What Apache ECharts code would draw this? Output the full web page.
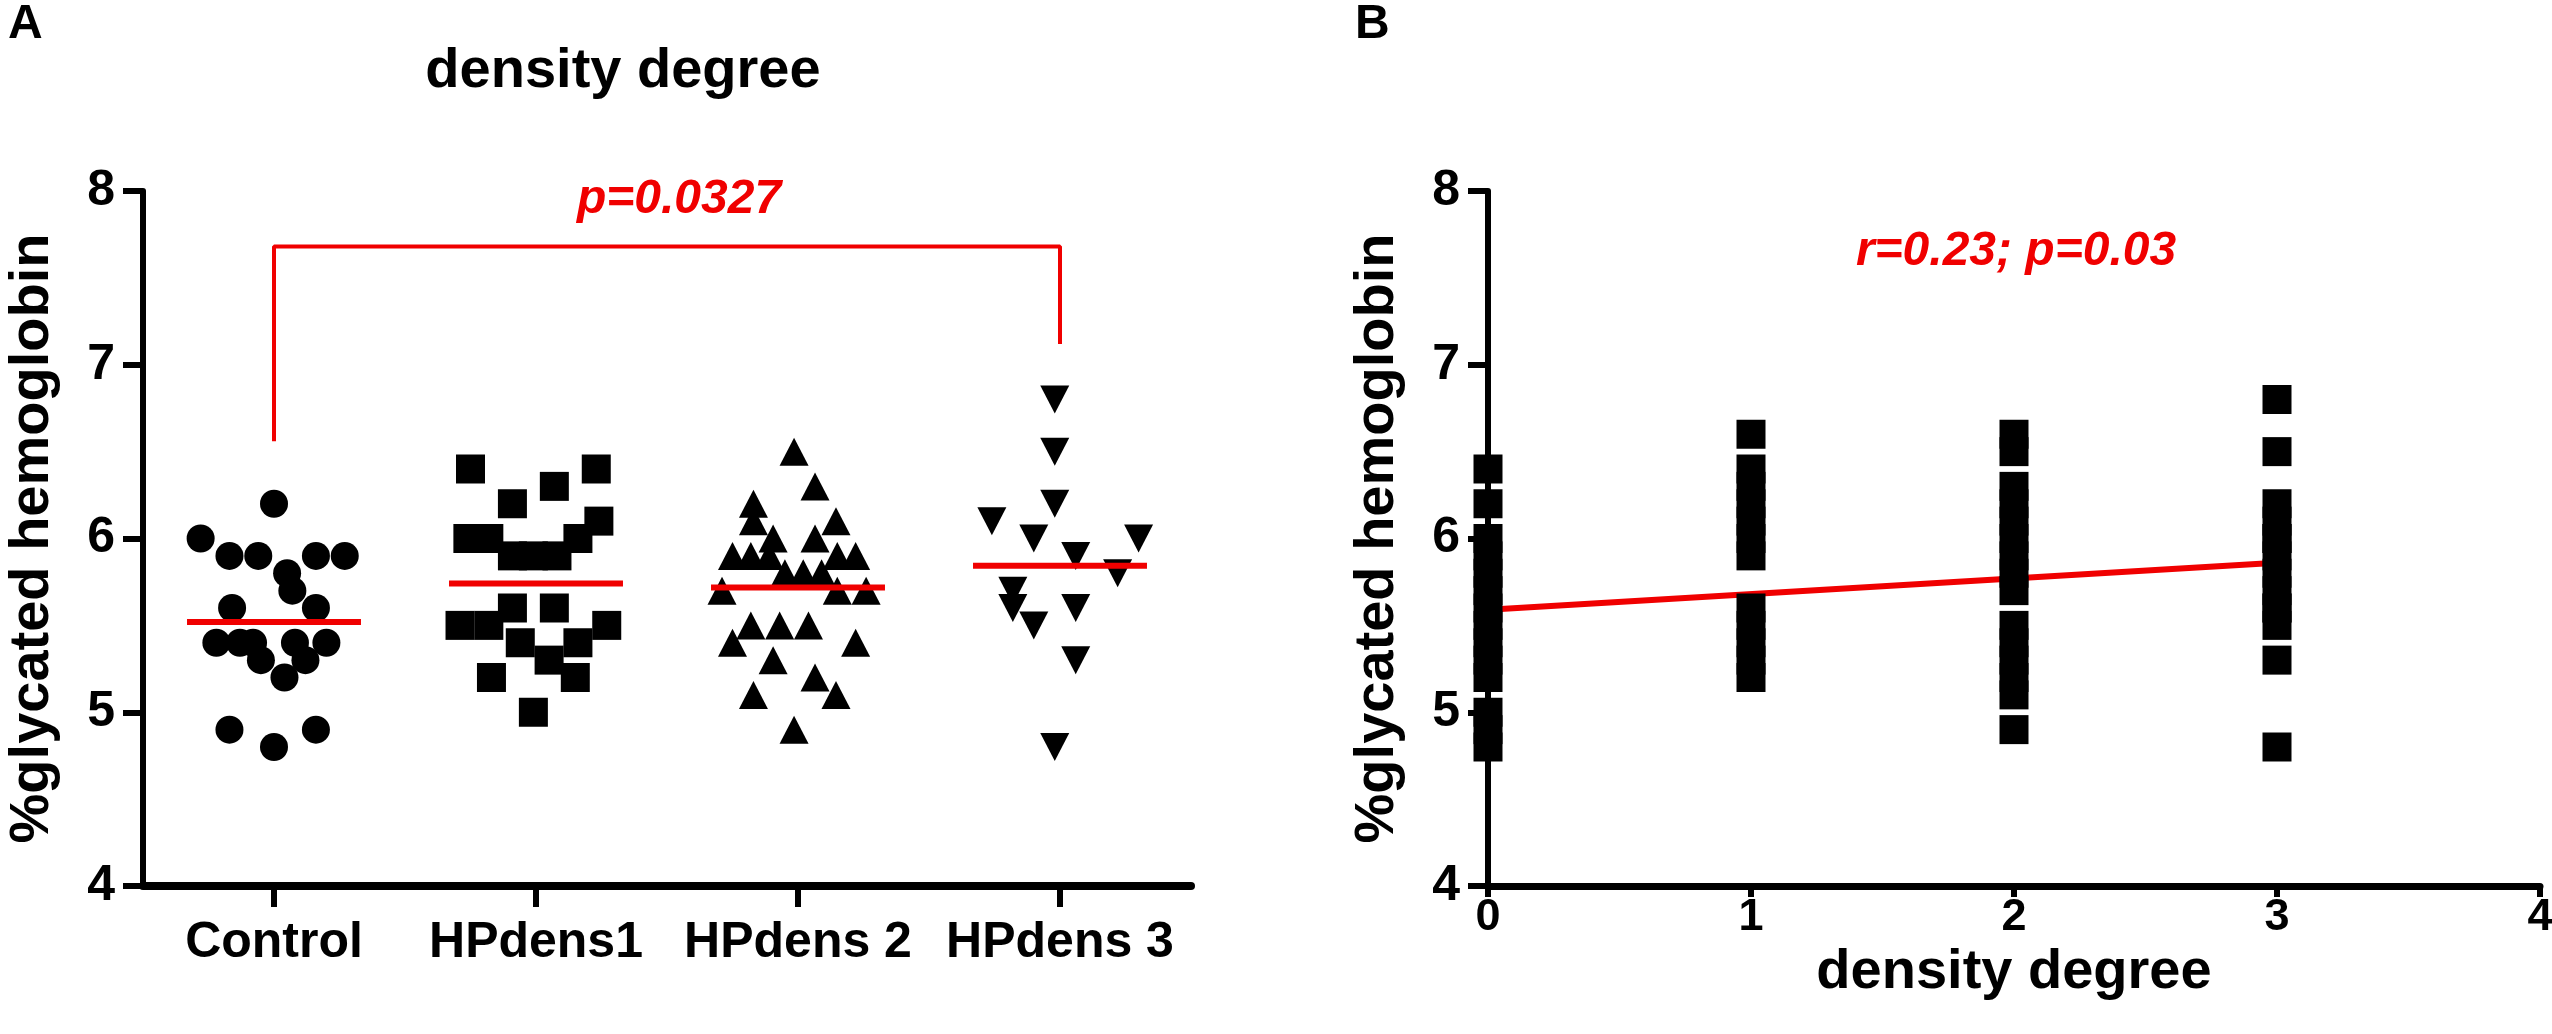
<!DOCTYPE html>
<html><head><meta charset="utf-8">
<script src="https://cdn.jsdelivr.net/npm/echarts@6/dist/echarts.min.js"></script>
<style>html,body{margin:0;padding:0;background:#fff}#c{width:2552px;height:1034px}</style>
</head><body><div id="c"></div>
<script>
// ---------- Panel A data ----------
const categories = ['Control', 'HPdens1', 'HPdens 2', 'HPdens 3'];
const yTicks = [4, 5, 6, 7, 8];

const controlValues = [6.2, 6.0, 5.9, 5.9, 5.9, 5.9, 5.8, 5.7, 5.6, 5.6, 5.4, 5.4, 5.4, 5.4, 5.4, 5.3, 5.3, 5.2, 4.9, 4.9, 4.8];
const controlJitter = [0, -0.28, -0.17, -0.06, 0.16, 0.27, 0.05, 0.07, -0.16, 0.16, -0.22, -0.13, -0.08, 0.08, 0.20, -0.05, 0.12, 0.04, -0.17, 0.16, 0];

const dens1Values = [6.4, 6.4, 6.3, 6.2, 6.1, 6.0, 6.0, 6.0, 5.9, 5.9, 5.9, 5.6, 5.6, 5.5, 5.5, 5.5, 5.4, 5.4, 5.3, 5.2, 5.2, 5.0];
const dens1Jitter = [-0.25, 0.23, 0.07, -0.09, 0.24, -0.26, -0.18, 0.16, -0.09, -0.01, 0.08, -0.09, 0.07, -0.29, -0.18, 0.27, -0.06, 0.16, 0.05, -0.17, 0.15, -0.01];

const dens2Values = [6.5, 6.3, 6.2, 6.1, 6.1, 6.0, 6.0, 5.9, 5.9, 5.9, 5.9, 5.9, 5.8, 5.8, 5.8, 5.7, 5.7, 5.7, 5.5, 5.5, 5.5, 5.4, 5.4, 5.3, 5.2, 5.1, 5.1, 4.9];
const dens2Jitter = [-0.015, 0.065, -0.17, -0.17, 0.145, -0.095, 0.065, -0.25, -0.18, -0.11, 0.15, 0.22, -0.05, 0.02, 0.09, -0.29, 0.15, 0.26, -0.18, -0.07, 0.04, -0.25, 0.22, -0.095, 0.065, -0.17, 0.145, -0.015];

const dens3Values = [6.8, 6.5, 6.2, 6.1, 6.0, 6.0, 5.9, 5.8, 5.7, 5.6, 5.6, 5.5, 5.3, 4.8];
const dens3Jitter = [-0.02, -0.02, -0.02, -0.26, -0.10, 0.30, 0.06, 0.22, -0.18, -0.18, 0.06, -0.10, 0.06, -0.02];

const pValueText = 'p=0.0327';
const bracketTop = 7.68, bracketLeftEnd = 6.56, bracketRightEnd = 7.12;

// ---------- Panel B data ----------
const densityTicks = [0, 1, 2, 3, 4];
const degree0Values = [6.4, 6.2, 6.0, 5.9, 5.8, 5.7, 5.6, 5.5, 5.4, 5.3, 5.2, 5.0, 4.9, 4.8];
const degree1Values = [6.6, 6.4, 6.3, 6.2, 6.1, 6.0, 5.9, 5.6, 5.5, 5.4, 5.3, 5.2];
const degree2Values = [6.6, 6.5, 6.3, 6.2, 6.1, 6.0, 5.9, 5.8, 5.7, 5.5, 5.4, 5.3, 5.2, 5.1, 4.9];
const degree3Values = [6.8, 6.5, 6.2, 6.1, 6.0, 6.0, 5.9, 5.8, 5.7, 5.6, 5.6, 5.5, 5.3, 4.8];
const fitX = [0, 3];
const fitY = [5.59, 5.86];
const corrText = 'r=0.23; p=0.03';

// ---------- build ----------
const FONT = "'Liberation Sans', Arial, Helvetica, sans-serif";
const RED = '#f00000';
const groupsA = [
  {v: controlValues, j: controlJitter, symbol: 'circle', size: 28, rot: 0},
  {v: dens1Values, j: dens1Jitter, symbol: 'rect', size: 29, rot: 0},
  {v: dens2Values, j: dens2Jitter, symbol: 'triangle', size: [29, 28], rot: 0},
  {v: dens3Values, j: dens3Jitter, symbol: 'triangle', size: [29, 28], rot: 180}
];
const means = groupsA.map(g => g.v.reduce((a, b) => a + b, 0) / g.v.length);
const degreesB = [degree0Values, degree1Values, degree2Values, degree3Values];

const chart = echarts.init(document.getElementById('c'), null, {renderer: 'canvas'});

const yAxisCommon = {
  type: 'value', min: yTicks[0], max: yTicks[yTicks.length - 1], interval: 1,
  name: '%glycated hemoglobin', nameLocation: 'middle', nameRotate: 90, nameGap: 82,
  nameTextStyle: {fontFamily: FONT, fontWeight: 'bold', fontSize: 56, color: '#000'},
  axisLine: {show: true, onZero: false, lineStyle: {color: '#000', width: 6}},
  axisTick: {show: true, length: 20, lineStyle: {color: '#000', width: 6}},
  axisLabel: {margin: 28, fontFamily: FONT, fontWeight: 'bold', fontSize: 50, color: '#000'},
  splitLine: {show: false}
};

const series = [];
groupsA.forEach((g, i) => {
  series.push({
    type: 'scatter', xAxisIndex: 1, yAxisIndex: 0,
    symbol: g.symbol, symbolSize: g.size, symbolRotate: g.rot,
    itemStyle: {color: '#000', opacity: 1},
    data: g.v.map((val, k) => [i + g.j[k], val]), z: 3, silent: true
  });
});
series.push({
  type: 'custom', xAxisIndex: 1, yAxisIndex: 0, z: 5, silent: true,
  data: means.map((m, i) => [i, m]),
  renderItem: (params, api) => {
    const i = api.value(0), m = api.value(1);
    const p1 = api.coord([i - 0.332, m]);
    const p2 = api.coord([i + 0.332, m]);
    return {type: 'line', shape: {x1: p1[0], y1: p1[1], x2: p2[0], y2: p2[1]},
      style: {stroke: RED, lineWidth: 6}};
  }
});
series.push({
  type: 'line', xAxisIndex: 1, yAxisIndex: 0, symbol: 'none', silent: true, z: 4,
  lineStyle: {color: RED, width: 4},
  data: [[0, bracketLeftEnd], [0, bracketTop], [3, bracketTop], [3, bracketRightEnd]]
});
// Panel B
series.push({
  type: 'line', xAxisIndex: 2, yAxisIndex: 1, symbol: 'none', silent: true, z: 2,
  lineStyle: {color: RED, width: 6},
  data: fitX.map((x, k) => [x, fitY[k]])
});
degreesB.forEach((vals, d) => {
  series.push({
    type: 'scatter', xAxisIndex: 2, yAxisIndex: 1, symbol: 'rect', symbolSize: 29,
    itemStyle: {color: '#000', opacity: 1}, z: 3, silent: true,
    data: vals.map(v => [d, v])
  });
});

chart.setOption({
  animation: false,
  backgroundColor: '#fff',
  grid: [
    {left: 143, top: 191, width: 1048, height: 695, containLabel: false, outerBoundsMode: 'none'},
    {left: 1488, top: 191, width: 1052, height: 695, containLabel: false, outerBoundsMode: 'none'}
  ],
  xAxis: [
    {
      type: 'category', gridIndex: 0, data: categories, boundaryGap: true,
      axisLine: {show: true, onZero: false, lineStyle: {color: '#000', width: 8}},
      axisTick: {show: true, alignWithLabel: true, length: 21, lineStyle: {color: '#000', width: 6}},
      axisLabel: {margin: 32, interval: 0, fontFamily: FONT, fontWeight: 'bold', fontSize: 50, color: '#000'},
      splitLine: {show: false}
    },
    {type: 'value', gridIndex: 0, min: -0.5, max: 3.5, show: false},
    {
      type: 'value', gridIndex: 1, min: densityTicks[0], max: densityTicks[densityTicks.length - 1], interval: 1,
      name: 'density degree', nameLocation: 'middle', nameGap: 34,
      nameTextStyle: {fontFamily: FONT, fontWeight: 'bold', fontSize: 56, color: '#000'},
      axisLine: {show: true, onZero: false, lineStyle: {color: '#000', width: 7}},
      axisTick: {show: true, length: 11, lineStyle: {color: '#000', width: 6}},
      axisLabel: {margin: 9, fontFamily: FONT, fontWeight: 'bold', fontSize: 45, color: '#000'},
      splitLine: {show: false}
    }
  ],
  yAxis: [
    Object.assign({gridIndex: 0}, yAxisCommon),
    Object.assign({gridIndex: 1}, yAxisCommon)
  ],
  graphic: [
    {type: 'text', silent: true, style: {text: 'A', x: 8, y: 25, fontFamily: FONT, fontWeight: 'bold', fontSize: 48, fill: '#000', align: 'left', verticalAlign: 'middle'}},
    {type: 'text', silent: true, style: {text: 'B', x: 1355, y: 25, fontFamily: FONT, fontWeight: 'bold', fontSize: 48, fill: '#000', align: 'left', verticalAlign: 'middle'}},
    {type: 'text', silent: true, style: {text: 'density degree', x: 623, y: 72, fontFamily: FONT, fontWeight: 'bold', fontSize: 56, fill: '#000', align: 'center', verticalAlign: 'middle'}},
    {type: 'text', silent: true, style: {text: pValueText, x: 679, y: 200, fontFamily: FONT, fontWeight: 'bold', fontStyle: 'italic', fontSize: 48, fill: RED, align: 'center', verticalAlign: 'middle'}},
    {type: 'text', silent: true, style: {text: corrText, x: 2016, y: 252, fontFamily: FONT, fontWeight: 'bold', fontStyle: 'italic', fontSize: 48, fill: RED, align: 'center', verticalAlign: 'middle'}}
  ],
  series: series
});
</script>
</body></html>
